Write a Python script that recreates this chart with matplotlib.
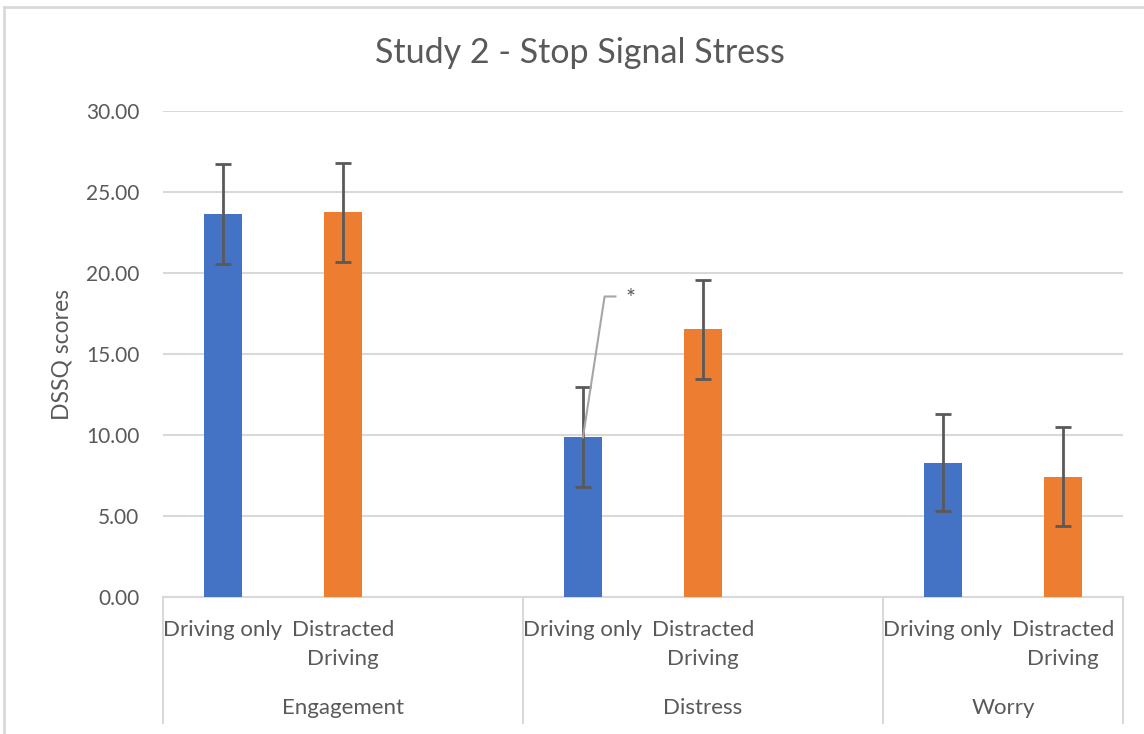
import numpy as np
import matplotlib
matplotlib.use("Agg")
import matplotlib.pyplot as plt
from matplotlib.lines import Line2D

plt.rcParams['font.family'] = ['Lato', 'DejaVu Sans']

groups = ["Engagement", "Distress", "Worry"]
conditions = ["Driving only", "Distracted\nDriving"]
driving_only = [23.66, 9.86, 8.30]
distracted = [23.74, 16.52, 7.43]
err_only = [3.08, 3.08, 3.00]
err_distracted = [3.08, 3.07, 3.05]

blue = "#4472C4"
orange = "#ED7D31"
txt = "#595959"
grid = "#D9D9D9"

fig = plt.figure(figsize=(11.44, 7.34), dpi=100)
ax = fig.add_axes([163/1144, 1-597/734, 960/1144, 486/734])

pos_only = np.arange(len(groups)) * 3
pos_dist = pos_only + 1
w = 0.32
ekw = dict(ecolor="#595959", elinewidth=2, capsize=5.5, capthick=2)
ax.bar(pos_only, driving_only, w, color=blue, yerr=err_only, error_kw=ekw, zorder=3)
ax.bar(pos_dist, distracted, w, color=orange, yerr=err_distracted, error_kw=ekw, zorder=3)

ax.set_xlim(-0.5, 7.5)
ax.set_ylim(0, 30)
ax.set_yticks(np.arange(0, 31, 5))
ax.set_yticklabels(["%.2f" % v for v in np.arange(0, 31, 5)], fontsize=15, color=txt)
ax.tick_params(axis='y', length=0, pad=17)
ax.set_xticks([])
ax.yaxis.grid(True, color=grid, linewidth=1.5, zorder=0)
for s in ["top", "right", "left"]:
    ax.spines[s].set_visible(False)
ax.spines["bottom"].set_color(grid)
ax.spines["bottom"].set_linewidth(1.5)
ax.set_ylabel("DSSQ scores", fontsize=16.5, color=txt)
ax.yaxis.set_label_coords((72 - 163) / 960, 0.5)

tr = ax.get_xaxis_transform()
for i, g in enumerate(groups):
    ax.text(pos_only[i], -0.047, conditions[0], transform=tr, ha="center", va="top",
            fontsize=16, color=txt, linespacing=1.6)
    ax.text(pos_dist[i], -0.047, conditions[1], transform=tr, ha="center", va="top",
            fontsize=16, color=txt, linespacing=1.6)
    right = 3 * i + 2.5 if i < len(groups) - 1 else 7.5
    ax.text((3 * i - 0.5 + right) / 2, -0.228, g, transform=tr, ha="center", va="center",
            fontsize=16, color=txt)
for xb in [-0.5, 2.5, 5.5, 7.5]:
    ax.add_line(Line2D([xb, xb], [0, -0.259], transform=tr, color=grid, lw=1.5, clip_on=False))

# significance marker
ax.plot([pos_only[1], pos_only[1] + 0.18, pos_only[1] + 0.27], [driving_only[1], 18.55, 18.55],
        color="#A6A6A6", lw=1.5, zorder=4)
ax.text(pos_only[1] + 0.4, 18.4, "*", ha="center", va="center", fontsize=17, color=txt)

fig.text(580/1144, 1-53/734, "Study 2 - Stop Signal Stress", ha="center", va="center",
         fontsize=24.5, color=txt)

# outer chart frame (partially visible)
fig.add_artist(Line2D([4/1144, 4/1144], [0, 1-7/734], color=grid, lw=2))
fig.add_artist(Line2D([4/1144, 1], [1-7/734, 1-7/734], color=grid, lw=2))

fig.savefig("out.png", dpi=100)
